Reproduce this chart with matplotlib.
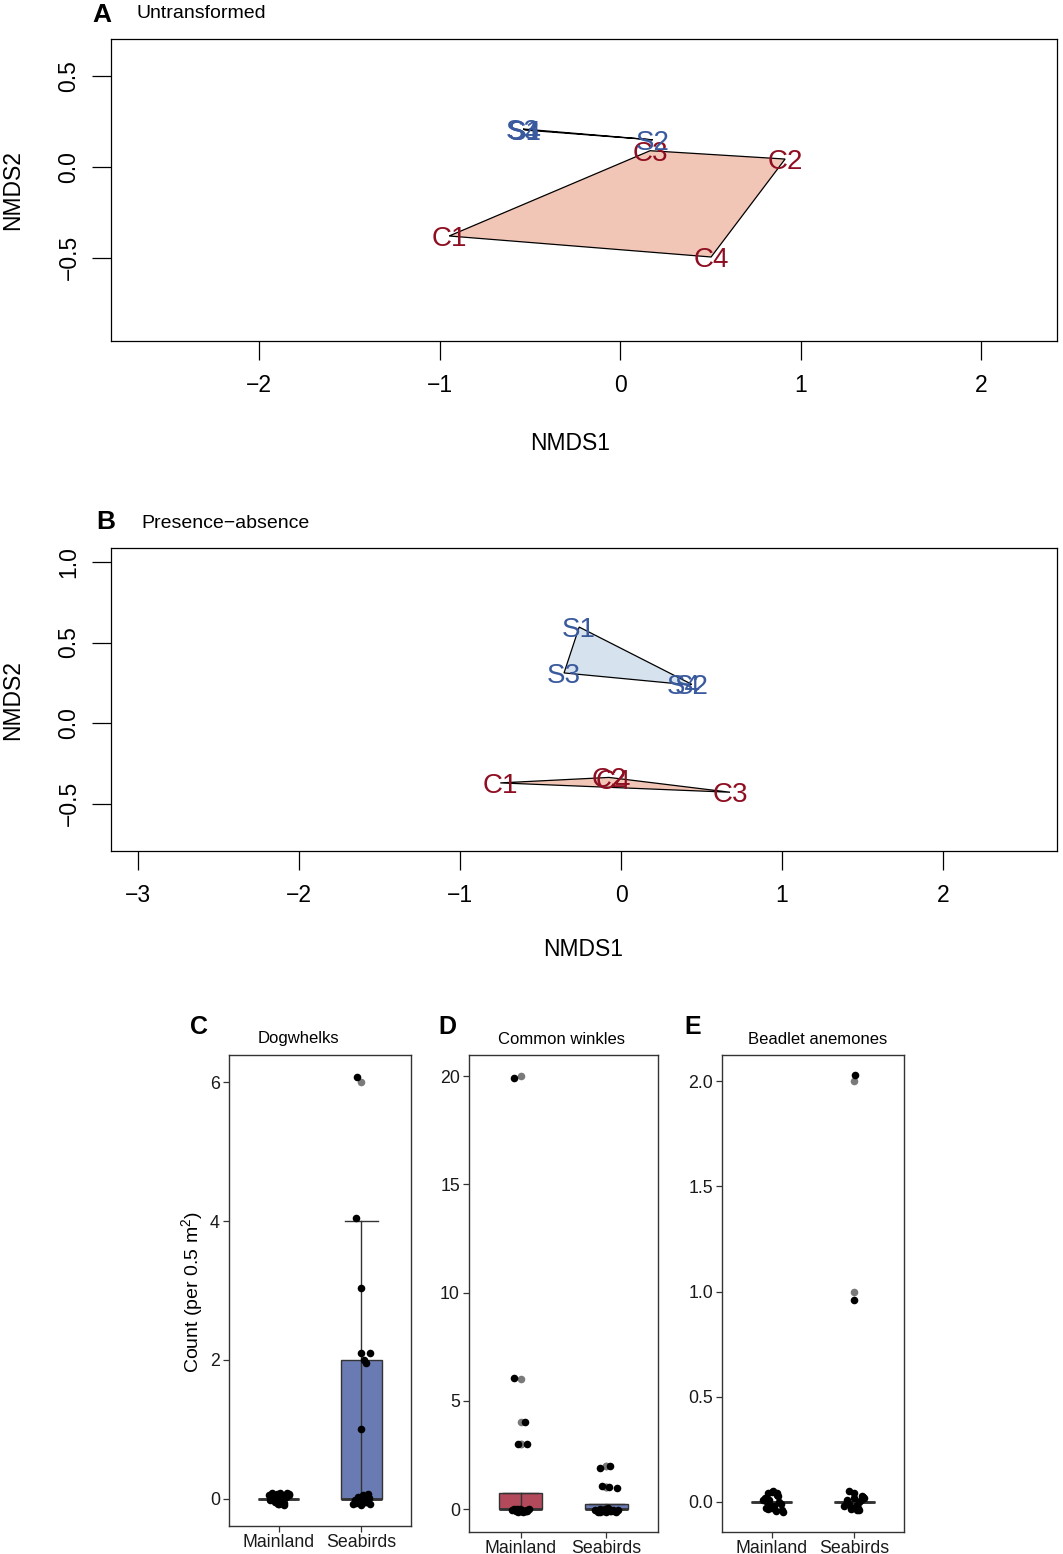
import numpy as np
import matplotlib.pyplot as plt
from matplotlib.patches import Polygon, Rectangle

plt.rcParams['font.family'] = ['Liberation Sans', 'DejaVu Sans']
plt.rcParams['mathtext.fontset'] = 'custom'
plt.rcParams['mathtext.rm'] = 'Liberation Sans'

W, H = 1063, 1554

# ---- NMDS site scores
sites = ['C1', 'C2', 'C3', 'C4', 'S1', 'S2', 'S3', 'S4']
a_nmds1 = [-0.947, 0.914, 0.166, 0.504, -0.526, 0.180, -0.537, -0.530]
a_nmds2 = [-0.381, 0.044, 0.090, -0.497, 0.204, 0.150, 0.210, 0.207]
b_nmds1 = [-0.750, -0.075, 0.677, -0.050, -0.260, 0.440, -0.354, 0.390]
b_nmds2 = [-0.372, -0.338, -0.430, -0.345, 0.596, 0.240, 0.311, 0.240]

# ---- counts per quadrat, with the jitter offsets seen in the plot
c_main = [0] * 20
c_main_dx = [-0.12, -0.08, -0.05, -0.02, 0.01, 0.04, 0.07, 0.10, 0.13, -0.10,
             -0.06, -0.01, 0.03, 0.06, 0.09, 0.12, -0.03, 0.02, 0.05, -0.07]
c_main_dy = [0.06, 0.08, -0.04, 0.07, -0.08, 0.05, -0.06, 0.08, 0.07, -0.02,
             0.04, -0.07, 0.02, -0.09, 0.03, 0.06, -0.05, 0.09, -0.03, 0.01]
c_sea = [6, 4, 3, 2, 2, 2, 2, 1] + [0] * 12
c_sea_dx = [-0.05, -0.06, -0.01, 0.0, 0.10, 0.03, 0.06, 0.0,
            -0.10, -0.07, -0.04, -0.01, 0.02, 0.05, 0.08, 0.11, -0.08, -0.02, 0.04, 0.09]
c_sea_dy = [0.08, 0.04, 0.04, 0.10, 0.10, 0.0, -0.05, 0.0,
            -0.08, -0.06, 0.03, -0.09, 0.05, -0.04, 0.07, -0.07, -0.02, 0.01, -0.05, 0.02]

d_main = [20, 6, 4, 3, 3] + [0] * 15
d_main_dx = [-0.08, -0.08, 0.05, -0.03, 0.08,
             -0.10, -0.08, -0.05, -0.03, 0.0, 0.03, 0.05, 0.08, 0.10, -0.06, -0.01, 0.02, 0.06, -0.04, 0.07]
d_main_dy = [-0.10, 0.05, 0.0, 0.0, 0.0,
             -0.05, 0.0, -0.10, -0.12, -0.08, -0.13, -0.10, -0.06, -0.02, -0.03, 0.02, -0.04, -0.11, 0.01, -0.09]
d_sea = [2, 2, 1, 1, 1] + [0] * 15
d_sea_dx = [-0.08, 0.04, -0.05, 0.03, 0.12,
            -0.13, -0.10, -0.07, -0.04, -0.01, 0.02, 0.05, 0.08, 0.11, 0.13, -0.08, -0.02, 0.04, 0.09, 0.0]
d_sea_dy = [-0.09, 0.0, 0.05, 0.02, -0.05,
            -0.05, -0.12, 0.02, -0.08, -0.14, 0.04, -0.10, -0.03, -0.12, -0.06, -0.13, 0.0, -0.11, -0.07, -0.09]

e_main = [0] * 20
e_main_dx = [-0.10, -0.07, -0.04, -0.01, 0.02, 0.05, 0.08, 0.11, 0.14, -0.08,
             -0.05, 0.0, 0.03, 0.06, 0.09, 0.12, -0.03, 0.01, 0.07, -0.06]
e_main_dy = [0.01, -0.03, 0.04, -0.02, 0.05, -0.045, 0.03, -0.01, -0.05, 0.02,
             -0.035, 0.045, -0.02, 0.035, 0.0, -0.04, 0.01, -0.03, 0.04, 0.0]
e_sea = [2, 1] + [0] * 18
e_sea_dx = [0.01, 0.0,
            -0.12, -0.09, -0.06, -0.03, 0.0, 0.03, 0.06, 0.09, 0.12, -0.07,
            -0.04, -0.01, 0.02, 0.05, 0.08, -0.10, 0.10, 0.04]
e_sea_dy = [0.03, -0.04,
            -0.02, 0.01, 0.05, -0.03, 0.02, -0.04, 0.0, 0.03, 0.02, -0.01,
            -0.035, 0.04, -0.02, -0.04, 0.01, -0.01, 0.025, -0.03]

groups = ['Mainland', 'Seabirds']

red_txt = '#8E0F22'
blue_txt = '#3A5A9E'
pink = '#F2C6B6'
lightblue = '#D6E3EF'
box_red = '#B34A5B'
box_blue = '#6A7BB4'


def fpos(x0, y0, x1, y1):
    # pixel box -> figure fraction [left, bottom, width, height]
    return [x0 / W, 1 - y1 / H, (x1 - x0) / W, (y1 - y0) / H]


def hull(xs, ys):
    pts = sorted(set(zip(xs, ys)))
    if len(pts) < 3:
        return pts

    def cross(o, a, b):
        return (a[0] - o[0]) * (b[1] - o[1]) - (a[1] - o[1]) * (b[0] - o[0])
    lower, upper = [], []
    for p in pts:
        while len(lower) >= 2 and cross(lower[-2], lower[-1], p) <= 0:
            lower.pop()
        lower.append(p)
    for p in reversed(pts):
        while len(upper) >= 2 and cross(upper[-2], upper[-1], p) <= 0:
            upper.pop()
        upper.append(p)
    return lower[:-1] + upper[:-1]


fig = plt.figure(figsize=(W / 100, H / 100), dpi=100)


def nmds_panel(box, x, y, xlim, ylim, xticks, yticks):
    ax = fig.add_axes(fpos(*box))
    x = np.array(x)
    y = np.array(y)
    isC = np.array([s.startswith('C') for s in sites])
    for mask, fc in [(isC, pink), (~isC, lightblue)]:
        h = hull(x[mask], y[mask])
        ax.add_patch(Polygon(h, closed=True, facecolor=fc, edgecolor='black', lw=0.9, zorder=1))
    for s, xi, yi in zip(sites, x, y):
        ax.text(xi, yi, s, ha='center', va='center_baseline', fontsize=20,
                color=red_txt if s.startswith('C') else blue_txt, zorder=3)
    ax.set_xlim(xlim)
    ax.set_ylim(ylim)
    ax.set_xticks(xticks)
    ax.set_xticklabels([('%g' % t).replace('-', '\u2212') for t in xticks])
    ax.set_yticks(yticks)
    ax.set_yticklabels([('%.1f' % t).replace('-', '\u2212') for t in yticks],
                       rotation=90, va='center')
    ax.tick_params(length=14, width=0.9, labelsize=16.5)
    ax.tick_params(axis='x', pad=10)
    ax.tick_params(axis='y', pad=8)
    for sp in ax.spines.values():
        sp.set_linewidth(0.9)
    return ax


nmds_panel((111, 39, 1057, 341), a_nmds1, a_nmds2, (-2.82, 2.42), (-0.961, 0.707),
           [-2, -1, 0, 1, 2], [-0.5, 0.0, 0.5])
nmds_panel((111, 548, 1057, 851), b_nmds1, b_nmds2, (-3.168, 2.708), (-0.795, 1.087),
           [-3, -2, -1, 0, 1, 2], [-0.5, 0.0, 0.5, 1.0])

fig.text(102 / W, 1 - 15 / H, 'A', fontsize=19, fontweight='bold', ha='center', va='center')
fig.text(137 / W, 1 - 13 / H, 'Untransformed', fontsize=14, ha='left', va='center')
fig.text(106 / W, 1 - 522 / H, 'B', fontsize=19, fontweight='bold', ha='center', va='center')
fig.text(141 / W, 1 - 523 / H, 'Presence\u2212absence', fontsize=14, ha='left', va='center')
fig.text(570 / W, 1 - 443 / H, 'NMDS1', fontsize=16.5, ha='center', va='center')
fig.text(583 / W, 1 - 950 / H, 'NMDS1', fontsize=16.5, ha='center', va='center')
fig.text(13 / W, 1 - 190 / H, 'NMDS2', fontsize=16.5, ha='center', va='center', rotation=90)
fig.text(13 / W, 1 - 700 / H, 'NMDS2', fontsize=16.5, ha='center', va='center', rotation=90)


def box_panel(box, data, ylim, yticks, ylabels):
    ax = fig.add_axes(fpos(*box))
    fills = [box_red, box_blue]
    for i, (vals, dx, dy) in enumerate(data):
        pos = i + 1
        v = np.array(vals, float)
        q1, med, q3 = np.percentile(v, [25, 50, 75])
        iqr = q3 - q1
        keep = (v >= q1 - 1.5 * iqr) & (v <= q3 + 1.5 * iqr)
        lo = min(q1, v[keep].min())
        hi = max(q3, v[keep].max())
        out = v[~keep]
        ax.add_patch(Rectangle((pos - 0.25, q1), 0.5, q3 - q1, facecolor=fills[i],
                               edgecolor='#333333', lw=1.0, zorder=2))
        ax.plot([pos - 0.25, pos + 0.25], [med, med], color='#333333', lw=2.0, zorder=3,
                solid_capstyle='butt')
        ax.plot([pos, pos], [lo, hi], color='#333333', lw=1.0, zorder=3)
        for yy in (lo, hi):
            ax.plot([pos - 0.2, pos + 0.2], [yy, yy], color='#333333', lw=1.0, zorder=3)
        ax.scatter(np.full(len(out), pos), out, s=30, color='#7a7a7a', lw=0, zorder=4)
        ax.scatter(pos + np.array(dx), v + np.array(dy), s=30, color='black', lw=0, zorder=5)
    ax.set_xlim(0.4, 2.6)
    ax.set_ylim(ylim)
    ax.set_xticks([1, 2])
    ax.set_xticklabels(groups)
    ax.set_yticks(yticks)
    ax.set_yticklabels(ylabels)
    ax.tick_params(length=4, width=0.9, color='#333333', pad=2.5, labelsize=12.8,
                   labelcolor='#1a1a1a')
    ax.tick_params(axis='x', pad=1.5)
    for sp in ax.spines.values():
        sp.set_linewidth(1.0)
        sp.set_color('#333333')
    return ax


box_panel((229, 1055, 411, 1526),
          [(c_main, c_main_dx, c_main_dy), (c_sea, c_sea_dx, c_sea_dy)],
          (-0.39, 6.39), [0, 2, 4, 6], ['0', '2', '4', '6'])
box_panel((469, 1055, 658, 1532),
          [(d_main, d_main_dx, d_main_dy), (d_sea, d_sea_dx, d_sea_dy)],
          (-1.06, 20.97), [0, 5, 10, 15, 20], ['0', '5', '10', '15', '20'])
box_panel((722, 1055, 904, 1532),
          [(e_main, e_main_dx, e_main_dy), (e_sea, e_sea_dx, e_sea_dy)],
          (-0.143, 2.124), [0, 0.5, 1.0, 1.5, 2.0], ['0.0', '0.5', '1.0', '1.5', '2.0'])

for lx, tx, letter, title in [(199, 298, 'C', 'Dogwhelks'),
                              (447, 562, 'D', 'Common winkles'),
                              (693, 818, 'E', 'Beadlet anemones')]:
    fig.text(lx / W, 1 - 1027 / H, letter, fontsize=18, fontweight='bold', ha='center', va='center')
    fig.text(tx / W, 1 - 1039 / H, title, fontsize=12, ha='center', va='center')

fig.text(193 / W, 1 - 1292 / H, r'Count (per 0.5 $\mathrm{m}^{2}$)', fontsize=14,
         ha='center', va='center', rotation=90)

fig.savefig('out.png', dpi=100)
